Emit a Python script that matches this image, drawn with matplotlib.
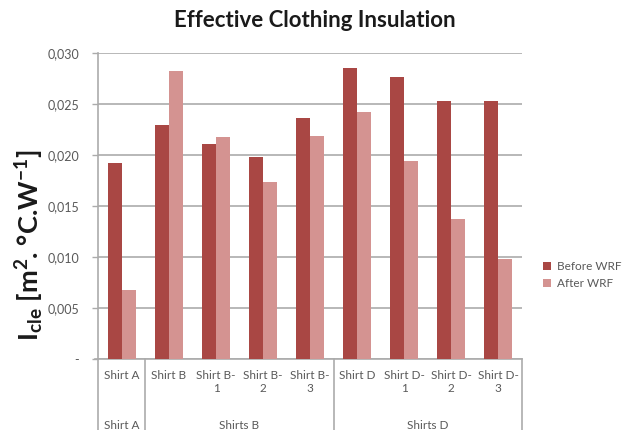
import numpy as np
import matplotlib
matplotlib.use('Agg')
import matplotlib.pyplot as plt
import matplotlib.transforms as mtrans

plt.rcParams['font.family'] = ['Lato', 'DejaVu Sans']
plt.rcParams['mathtext.fontset'] = 'custom'
plt.rcParams['mathtext.rm'] = 'Lato'
plt.rcParams['mathtext.bf'] = 'Lato:bold'

cats = ['Shirt A', 'Shirt B', 'Shirt B-\n1', 'Shirt B-\n2', 'Shirt B-\n3',
        'Shirt D', 'Shirt D-\n1', 'Shirt D-\n2', 'Shirt D-\n3']
before = [0.0192, 0.0229, 0.0211, 0.0198, 0.0236, 0.0285, 0.0276, 0.0253, 0.0253]
after = [0.0068, 0.0282, 0.0218, 0.0174, 0.0219, 0.0242, 0.0194, 0.0137, 0.0098]
groups = ['Shirt A', 'Shirts B', 'Shirts D']
group_sizes = [1, 4, 4]
yticks = [0, 0.005, 0.010, 0.015, 0.020, 0.025, 0.030]
ytick_labels = ['-', '0,005', '0,010', '0,015', '0,020', '0,025', '0,030']

c_before = '#A94744'
c_after = '#D49391'
grid_c = '#ABABAB'
txt_c = '#595959'

fig = plt.figure(figsize=(6.3, 4.3), dpi=100)
ax = fig.add_axes([0.1563, 0.1651, 0.8717 - 0.1563 - 0.0437, 0.8767 - 0.1651])

x = np.arange(len(cats))
w = 0.29
ax.bar(x - w, before, w, align='edge', color=c_before, label='Before WRF', zorder=3)
ax.bar(x, after, w, align='edge', color=c_after, label='After WRF', zorder=3)

ax.set_xlim(-0.5, len(cats) - 0.5)
ax.set_ylim(0, 0.030)
ax.set_yticks(yticks)
ax.set_yticklabels(ytick_labels)
ax.yaxis.grid(True, color=grid_c, linewidth=1.2, zorder=0)
ax.tick_params(axis='y', length=4, width=1, color=grid_c, labelcolor=txt_c,
               labelsize=9, pad=10)
ax.set_xticks([])
for s in ['top', 'right']:
    ax.spines[s].set_visible(False)
ax.spines['left'].set_color(grid_c)
ax.spines['bottom'].set_color(grid_c)
ax.spines['left'].set_linewidth(1.2)
ax.spines['bottom'].set_linewidth(1.2)

# multi-level category axis
tr = mtrans.blended_transform_factory(ax.transData, ax.transAxes)
for i, c in enumerate(cats):
    ax.text(i, -0.035, c, transform=tr, ha='center', va='top', fontsize=8.5,
            color=txt_c, linespacing=1.3)
start = 0
edges = [-0.5]
for g, n in zip(groups, group_sizes):
    mid = start + (n - 1) / 2
    ax.text(mid, -0.2, g, transform=tr, ha='center', va='top', fontsize=8.5,
            color=txt_c)
    start += n
    edges.append(start - 0.5)
for e in edges:
    ax.plot([e, e], [0, -0.245], transform=tr, color=grid_c, linewidth=1.2,
            clip_on=False)
ax.plot([-0.5 - 0.08, -0.5], [0, 0], transform=tr, color=grid_c, linewidth=1.2,
        clip_on=False)

fig.text(0.046, 0.43, r'$\mathbf{I_{cle}}$ [m$^{\mathbf{2}}$. °C.W$^{\mathbf{-1}}$]',
         rotation=90, ha='center', va='center', fontsize=19.5,
         fontweight='bold', color='#1a1a1a')
fig.text(0.5, 0.953, 'Effective Clothing Insulation', ha='center', va='center',
         fontsize=16, fontweight='bold', color='#1a1a1a')

fig.legend(loc='center left', bbox_to_anchor=(0.845, 0.36), frameon=False,
           fontsize=8.5, handlelength=0.7, handleheight=0.7, handletextpad=0.5,
           labelspacing=0.55, labelcolor=txt_c)

fig.savefig('out.png', dpi=100)
